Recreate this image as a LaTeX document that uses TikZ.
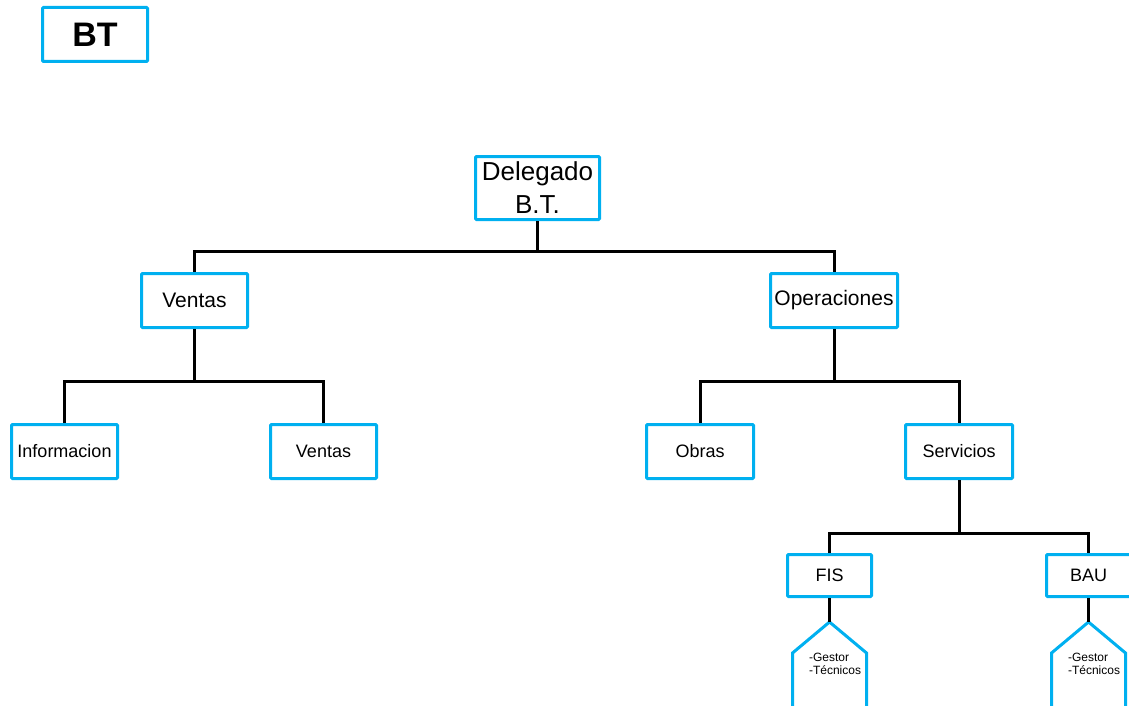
\documentclass[tikz,border=0pt]{standalone}
\usepackage{fontspec}
\setmainfont{Liberation Sans}
\usetikzlibrary{calc}
\definecolor{boxblue}{HTML}{00B0F0}
\begin{document}
\begin{tikzpicture}[x=1pt,y=-1pt,
  box/.style={draw=boxblue, line width=3pt, rounded corners=1pt, fill=white,
    inner sep=0pt, align=center, text=black},
  lvltwo/.style={box, minimum width=106pt, minimum height=54pt,
    font=\fontsize{21}{25}\selectfont},
  lvlthree/.style={box, minimum width=106pt, minimum height=54pt,
    font=\fontsize{18}{21}\selectfont},
  lvlfour/.style={box, minimum width=84pt, minimum height=42pt,
    font=\fontsize{18}{21}\selectfont},
  tag/.style={draw=boxblue, line width=3pt, line join=miter},
  taglabel/.style={inner sep=0pt, align=left, font=\fontsize{12}{13.5}\selectfont},
  link/.style={draw=black, line width=3pt}]
\useasboundingbox (0,0) rectangle (1129,706);
\clip (0,0) rectangle (1129,706);

% title box
\node[box, minimum width=105pt, minimum height=54pt,
  font=\fontsize{34}{40}\selectfont\bfseries] (bt) at (95,34.5) {BT};

% bus junctions
\coordinate (busA) at (537.5,251);
\coordinate (busB) at (194.5,381);
\coordinate (busC) at (834,381);
\coordinate (busD) at (959,533);

% boxes
\node[box, minimum width=124pt, minimum height=63pt,
  font=\fontsize{26}{33}\selectfont] (del) at (537.5,188) {Delegado\\B.T.};
\node[lvltwo] (ventasA) at (194.5,300.5) {Ventas};
\node[lvltwo, minimum width=127pt] (ops) at (834,300.5) {Operaciones};
\node[lvlthree] (info) at (64.5,451.5) {Informacion};
\node[lvlthree] (ventasB) at (323.5,451.5) {Ventas};
\node[lvlthree, minimum width=107pt] (obras) at (700,451.5) {Obras};
\node[lvlthree, minimum width=107pt] (serv) at (959,451.5) {Servicios};
\node[lvlfour] (fis) at (829.5,575.5) {FIS};
\node[lvlfour] (bau) at (1088.5,575.5) {BAU};

% staff tags below FIS and BAU (open at the bottom edge)
\coordinate (fistop) at (829.5,622);
\coordinate (bautop) at (1088.5,622);
\foreach \t in {fistop,bautop}{
  \draw[tag] ($(\t)+(-37,120)$) -- ($(\t)+(-37,31)$) -- (\t)
    -- ($(\t)+(37,31)$) -- ($(\t)+(37,120)$);
}
\node[taglabel] (fisstaff) at (835,664) {-Gestor\\-Técnicos};
\node[taglabel] (baustaff) at (1094,664) {-Gestor\\-Técnicos};

% connectors
\draw[link] (del.south) -- (busA);
\draw[link] (ventasA.north) |- (busA) -| (ops.north);
\draw[link] (ventasA.south) -- (busB);
\draw[link] (info.north) |- (busB) -| (ventasB.north);
\draw[link] (ops.south) -- (busC);
\draw[link] (obras.north) |- (busC) -| (serv.north);
\draw[link] (serv.south) -- (busD);
\draw[link] (fis.north) |- (busD) -| (bau.north);
\draw[link] (fis.south) -- (fistop);
\draw[link] (bau.south) -- (bautop);
\end{tikzpicture}
\end{document}
